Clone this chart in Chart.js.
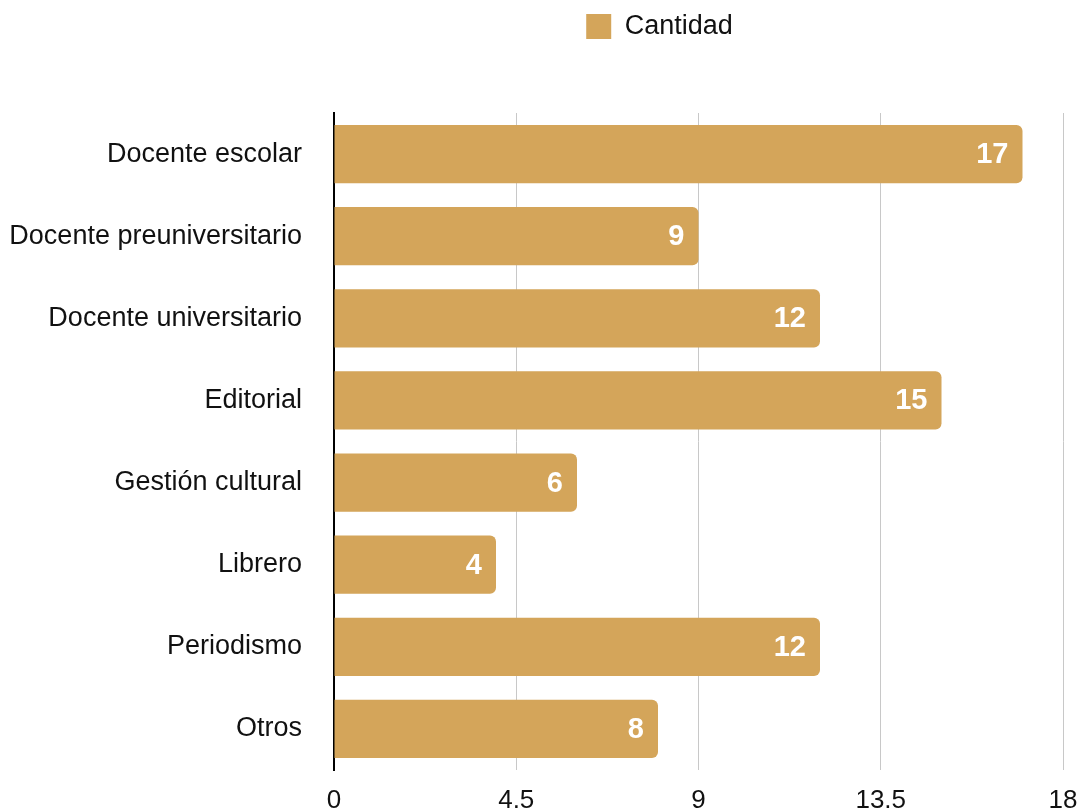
<!DOCTYPE html>
<html>
<head>
<meta charset="utf-8">
<script src="https://cdn.jsdelivr.net/npm/chart.js@4"></script>
<style>
  body { margin: 0; background: #fff; }
  canvas { display: block; }
</style>
</head>
<body>
<canvas id="chart" width="1081" height="811"></canvas>
<script>
const categories = ["Docente escolar", "Docente preuniversitario", "Docente universitario", "Editorial",
    "Gestión cultural", "Librero", "Periodismo", "Otros"];
const counts = [17, 9, 12, 15, 6, 4, 12, 8];
const tickValues = [0, 4.5, 9, 13.5, 18];
const seriesName = "Cantidad";

const barColor = "rgb(212,165,90)";
const fontFamily = "'Liberation Sans', Arial, Helvetica, sans-serif";

// write the value inside the end of every bar
const valueLabels = {
    id: 'valueLabels',
    afterDatasetsDraw: function (chart) {
        const ctx = chart.ctx;
        const meta = chart.getDatasetMeta(0);
        ctx.save();
        ctx.fillStyle = '#fff';
        ctx.font = 'bold 29px ' + fontFamily;
        ctx.textAlign = 'right';
        ctx.textBaseline = 'middle';
        meta.data.forEach(function (bar, i) {
            ctx.fillText(String(counts[i]), bar.x - 14, bar.y + 1);
        });
        ctx.restore();
    }
};

// more room under the legend, and the legend sits right of the centre
const legendSpace = {
    id: 'legendSpace',
    afterInit: function (chart) {
        const fit = chart.legend.fit;
        chart.legend.fit = function () {
            fit.call(this);
            this.height += 63;
        };
    },
    afterLayout: function (chart) {
        chart.legend.left += 128;
        chart.legend.right += 128;
    }
};

const ctx = document.getElementById('chart').getContext('2d');
const chart = new Chart(ctx, {
    type: 'bar',
    data: {
        labels: categories,
        datasets: [{
            label: seriesName,
            data: counts,
            backgroundColor: barColor,
            borderRadius: 6,
            borderSkipped: 'start',
            barPercentage: 0.71,
            categoryPercentage: 1
        }]
    },
    options: {
        indexAxis: 'y',
        responsive: false,
        animation: false,
        layout: { padding: { left: 0, right: 18, top: 0, bottom: 0 } },
        plugins: {
            legend: {
                position: 'top',
                labels: {
                    boxWidth: 25,
                    boxHeight: 25,
                    padding: 13,
                    color: '#111',
                    font: { family: fontFamily, size: 27 }
                }
            },
            tooltip: { enabled: false }
        },
        scales: {
            x: {
                min: 0,
                max: 18,
                afterBuildTicks: function (scale) {
                    scale.ticks = tickValues.map(v => ({ value: v }));
                },
                afterFit: function (scale) {
                    scale.height = 41;
                    scale.paddingLeft = 0;
                    scale.paddingRight = 0;
                },
                grid: { color: '#c8c8c8', lineWidth: 1, drawTicks: false },
                border: { display: false },
                ticks: {
                    padding: 15,
                    color: '#111',
                    font: { family: fontFamily, size: 26 }
                }
            },
            y: {
                afterFit: function (scale) {
                    scale.width = 334;
                    scale.paddingTop = 0;
                    scale.paddingBottom = 0;
                },
                grid: { display: false, drawTicks: false },
                border: { display: true, color: '#000', width: 2 },
                ticks: {
                    padding: 32,
                    color: '#111',
                    font: { family: fontFamily, size: 27 }
                }
            }
        }
    },
    plugins: [valueLabels, legendSpace]
});
</script>
</body>
</html>
